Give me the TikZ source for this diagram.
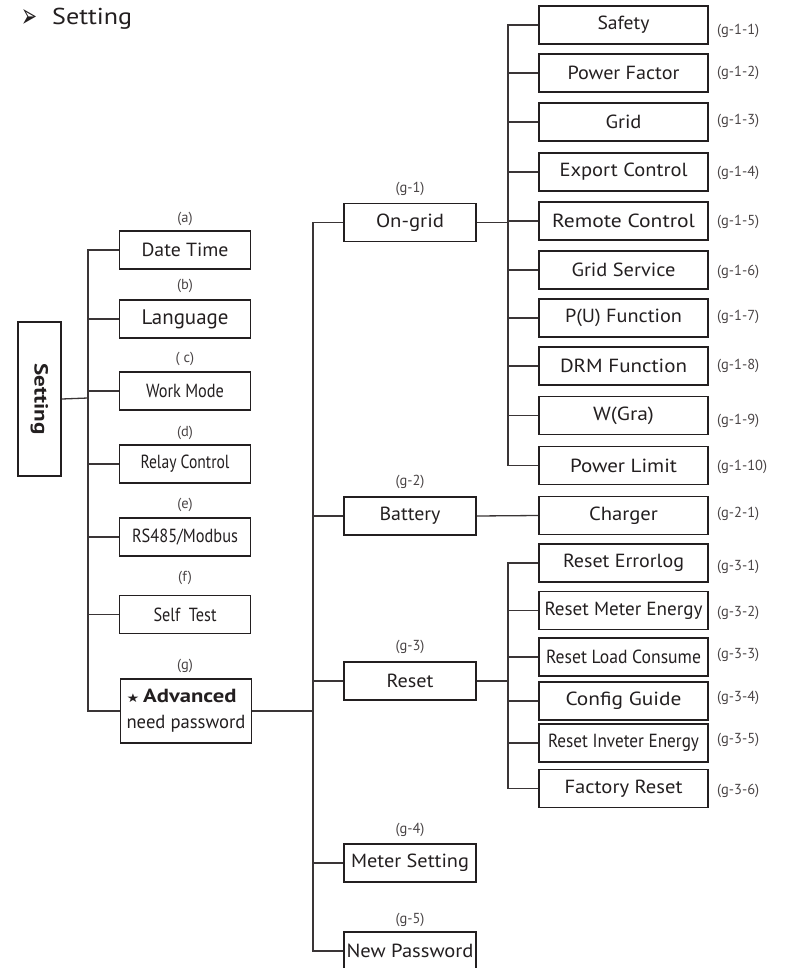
\documentclass[tikz,border=0pt]{standalone}
\usepackage{fontspec}
\usepackage{graphicx}
\setmainfont{PT Sans}
\newfontfamily\symfont{DejaVu Sans}
\newcommand{\fw}[2]{\resizebox{#1pt}{\height}{#2}}
\definecolor{ink}{HTML}{231F20}
\definecolor{wirec}{HTML}{3A3536}
\definecolor{labc}{HTML}{4A4546}
\tikzset{
 box/.style={draw=ink, line width=1.7pt, minimum height=38pt, inner sep=0pt, text=ink, font=\fontsize{19}{22}\selectfont},
 bone/.style={box, minimum width=131pt},
 btwo/.style={box, minimum width=132pt},
 bthree/.style={box, minimum width=169pt},
 lab/.style={text=labc, font=\fontsize{14.5}{16}\selectfont, inner sep=0pt},
 rlab/.style={lab, anchor=west},
 wire/.style={draw=wirec, line width=1.3pt},
}
\begin{document}
\begin{tikzpicture}[x=1pt,y=-1pt]
\useasboundingbox (0,0) rectangle (788,968);

% title
\node[text=ink, font=\symfont\fontsize{30}{30}\selectfont, inner sep=0pt] (arr) at (29,19) {\resizebox{16pt}{18pt}{➢}};
\node[text=ink, anchor=west, inner sep=0pt, font=\fontsize{23}{23}\selectfont] (title) at (52,19) {\fw{80}{Setting}};

% root
\node[box, minimum width=43pt, minimum height=154pt] (set) at (39.5,399) {};
\node[text=ink, rotate=-90, inner sep=0pt, font=\fontsize{19}{19}\selectfont\bfseries] (settxt) at (set.center) {\fw{71}{Setting}};

% level 1
\node[bone] (dt)   at (185,250) {\fw{87}{Date Time}};
\node[bone, font=\fontsize{21}{22}\selectfont] (lang) at (185,319) {\fw{87}{Language}};
\node[bone] (wm)   at (185,391) {\fw{78}{Work Mode}};
\node[bone] (rc)   at (185,464) {\fw{89}{Relay Control}};
\node[bone] (rs)   at (185,537) {\fw{106}{RS485/Modbus}};
\node[bone] (st)   at (185,614.5) {\fw{63}{Self\ \ Test}};
\node[bone, minimum height=64pt, align=left, font=\fontsize{19}{26}\selectfont] (adv) at (186,711)
  {\fw{110}{{\symfont\fontsize{12}{12}\selectfont ★}\,\textbf{Advanced}}\\\fw{119}{need password}};

\node[lab] (la) at (185,219) {(a)};
\node[lab] (lb) at (185,286) {(b)};
\node[lab] (lc) at (185,359) {( c)};
\node[lab] (ld) at (185,433) {(d)};
\node[lab] (le) at (185,505) {(e)};
\node[lab] (lf) at (185,578) {(f)};
\node[lab] (lg) at (185,666) {(g)};

\coordinate (t1) at (88,398);
\draw[wire] (set.east) -- (t1);
\foreach \n in {dt,lang,wm,rc,rs,st,adv} \draw[wire] (t1) |- (\n.west);

% level 2
\node[btwo] (og)  at (410,222.5) {\fw{68}{On-grid}};
\node[btwo] (bat) at (410,516) {\fw{61}{Battery}};
\node[btwo] (rst) at (410,681) {\fw{47}{Reset}};
\node[btwo] (ms)  at (410,863) {\fw{118}{Meter Setting}};
\node[btwo] (np)  at (410,951) {\fw{127}{New Password}};

\node[lab] (lg1) at (410,189) {(g-1)};
\node[lab] (lg2) at (410,482) {(g-2)};
\node[lab] (lg3) at (410,647) {(g-3)};
\node[lab] (lg4) at (410,830) {(g-4)};
\node[lab] (lg5) at (410,920) {(g-5)};

\coordinate (t2) at (313,711);
\draw[wire] (adv.east) -- (t2);
\foreach \n in {og,bat,rst,ms,np} \draw[wire] (t2) |- (\n.west);

% level 3 : on-grid
\node[bthree] (saf) at (623.5,25)  {\fw{52}{Safety}};
\node[bthree] (pf)  at (623.5,73)  {\fw{112}{Power Factor}};
\node[bthree] (gr)  at (623.5,122) {\fw{36}{Grid}};
\node[bthree] (ec)  at (623.5,172) {\fw{128}{Export Control}};
\node[bthree] (rmc) at (623.5,221) {\fw{143}{Remote Control}};
\node[bthree] (gs)  at (623.5,270) {\fw{104}{Grid Service}};
\node[bthree] (pu)  at (623.5,318) {\fw{117}{P(U) Function}};
\node[bthree] (drm) at (623.5,366) {\fw{127}{DRM Function}};
\node[bthree] (wg)  at (623.5,415.5) {\fw{61}{W(Gra)}};
\node[bthree] (pl)  at (623.5,465.5) {\fw{107}{Power Limit}};

\node[rlab] at (717,31)  {(g-1-1)};
\node[rlab] at (717,73)  {(g-1-2)};
\node[rlab] at (717,121) {(g-1-3)};
\node[rlab] at (717,173) {(g-1-4)};
\node[rlab] at (717,222) {(g-1-5)};
\node[rlab] at (717,272) {(g-1-6)};
\node[rlab] at (717,317) {(g-1-7)};
\node[rlab] at (717,366) {(g-1-8)};
\node[rlab] at (717,421) {(g-1-9)};
\node[rlab] at (717,467) {(g-1-10)};

\coordinate (t3) at (508,222.5);
\draw[wire] (og.east) -- (t3);
\foreach \n in {saf,pf,gr,ec,rmc,gs,pu,drm,wg,pl} \draw[wire] (t3) |- (\n.west);

% battery
\node[bthree] (chg) at (623.5,515.5) {\fw{69}{Charger}};
\node[rlab] at (717,514) {(g-2-1)};
\draw[wire] (bat.east) -- (chg.west);

% reset
\node[bthree] (rel) at (623.5,563)   {\fw{121}{Reset Errorlog}};
\node[bthree] (rme) at (623.5,610.5) {\fw{158}{Reset Meter Energy}};
\node[bthree] (rlc) at (623.5,657)   {\fw{155}{Reset Load Consume}};
\node[bthree] (cg)  at (623.5,701)   {\fw{116}{Config Guide}};
\node[bthree] (rie) at (623.5,743)   {\fw{151}{Reset Inveter Energy}};
\node[bthree] (fr)  at (623.5,788.5) {\fw{118}{Factory Reset}};

\node[rlab] at (717,567) {(g-3-1)};
\node[rlab] at (717,613) {(g-3-2)};
\node[rlab] at (717,655) {(g-3-3)};
\node[rlab] at (717,698) {(g-3-4)};
\node[rlab] at (717,740) {(g-3-5)};
\node[rlab] at (717,791) {(g-3-6)};

\coordinate (t4) at (508,681);
\draw[wire] (rst.east) -- (t4);
\foreach \n in {rel,rme,rlc,cg,rie,fr} \draw[wire] (t4) |- (\n.west);
\end{tikzpicture}
\end{document}
